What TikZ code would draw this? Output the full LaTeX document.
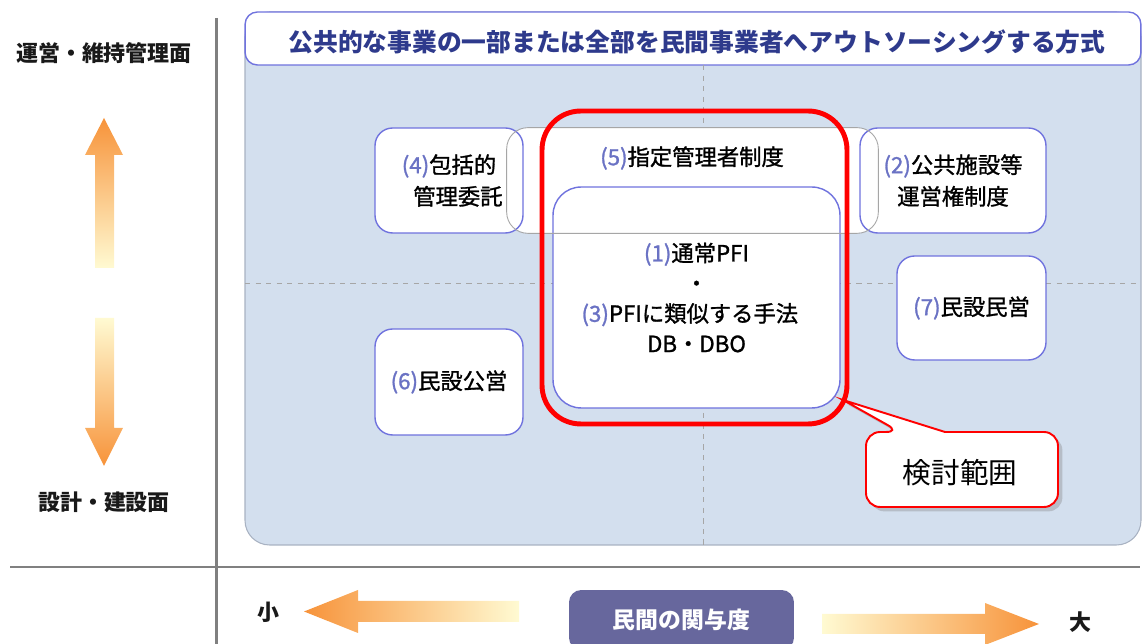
\documentclass[tikz,border=0pt]{standalone}
\usepackage{fontspec}
\setmainfont{Noto Sans CJK JP}
\newfontfamily\jpmed[FakeBold=1.2]{Noto Sans CJK JP}
\usetikzlibrary{shadows}
\definecolor{panelblue}{HTML}{D3DFEE}
\definecolor{panelline}{HTML}{A8B2C2}
\definecolor{boxline}{HTML}{7073DE}
\definecolor{numblue}{HTML}{6A72C4}
\definecolor{titleblue}{HTML}{2E3A8C}
\definecolor{axisgray}{HTML}{808080}
\definecolor{arroworange}{HTML}{F7933A}
\definecolor{arrowlight}{HTML}{FFFAD2}
\definecolor{degreepurple}{HTML}{67679D}
\newcommand{\mnum}[1]{\textcolor{numblue}{#1}}
\tikzset{
  methodbox/.style={draw=boxline,line width=0.8pt,fill=white,rounded corners=10pt,align=center,
    inner sep=0pt,font=\fontsize{12.7}{18}\selectfont\jpmed},
  sideaxis/.style={font=\fontsize{12.5}{14}\selectfont\bfseries,text=black!90},
  gridline/.style={dashed,axisgray!70,line width=0.5pt},
}
\begin{document}
\begin{tikzpicture}[x=0.02cm,y=-0.02cm]
\useasboundingbox (0,0) rectangle (1144,644);
% panel and title
\draw[fill=panelblue,draw=panelline,line width=0.6pt,rounded corners=14pt] (245,12) rectangle (1141,545);
\node[draw=boxline,line width=0.8pt,fill=white,rounded corners=7pt,minimum width=17.92cm,minimum height=1.06cm,inner sep=0pt] (titlebox) at (693,38.5) {};
\node[font=\fontsize{14.1}{16}\selectfont\bfseries,text=titleblue] (title) at (697,42) {公共的な事業の一部または全部を民間事業者へアウトソーシングする方式};
\draw[gridline] (245,283) -- (1141,283);
\draw[gridline] (703,65) -- (703,545);
% method boxes
\node[fill=white,minimum width=7.42cm,minimum height=2.1cm,rounded corners=12pt] (shitei) at (692.5,180.5) {};
\node[methodbox,minimum width=2.96cm,minimum height=2.1cm] (houkatsu) at (449,180.5) {\mnum{(4)}包括的\\\hspace*{0.8em}管理委託};
\node[methodbox,minimum width=3.72cm,minimum height=2.1cm] (unei) at (953,180.5) {\mnum{(2)}公共施設等\\運営権制度};
\node[methodbox,minimum width=2.96cm,minimum height=2.12cm] (minkou) at (449,382) {\mnum{(6)}民設公営};
\node[methodbox,minimum width=2.98cm,minimum height=2.08cm] (minmin) at (971.5,308) {\mnum{(7)}民設民営};
\node[methodbox,rounded corners=16pt,minimum width=5.74cm,minimum height=4.42cm,font=\fontsize{12.7}{17.2}\selectfont\jpmed] (pfi) at (696.5,297.5)
  {\mnum{(1)}通常PFI\\・\\\hspace*{-0.6em}\mnum{(3)}PFIに類似する手法\\DB・DBO};
\draw[axisgray!70,line width=0.5pt,rounded corners=12pt] (shitei.north west) rectangle (shitei.south east);
\node[font=\fontsize{12.7}{15}\selectfont\jpmed] (shiteitext) at (692,158) {\mnum{(5)}指定管理者制度};
% scope of study
\node[draw=red,line width=2.8pt,rounded corners=22pt,minimum width=6.1cm,minimum height=6.26cm] (scope) at (694.5,267.5) {};
\coordinate (calltip) at (843,400);
\draw[draw=red,line width=1.1pt,fill=white,drop shadow={opacity=0.35,shadow xshift=2.5pt,shadow yshift=-2.5pt}]
  (calltip) -- (945,432) [rounded corners=8pt] -- (1058,432) -- (1058,507) -- (866,507) -- (866,432) -- (900,432) [sharp corners] -- cycle;
\node[font=\fontsize{16.3}{18}\selectfont] (callout) at (960,473) {検討範囲};
% axes
\draw[axisgray,line width=1.5pt] (216.5,18) -- (216.5,644);
\draw[axisgray,line width=1.5pt] (10,567) -- (1140,567);
\node[sideaxis] (opside) at (104,53) {運営・維持管理面};
\node[sideaxis] (buildside) at (104,502) {設計・建設面};
\shade[top color=arroworange,bottom color=arrowlight] (95,268) -- (95,155) -- (85,155) -- (104,118) -- (123,155) -- (114,155) -- (114,268) -- cycle;
\shade[top color=arrowlight,bottom color=arroworange] (95,318) -- (95,428) -- (85,428) -- (104,466) -- (123,428) -- (114,428) -- (114,318) -- cycle;
\shade[left color=arroworange,right color=arrowlight] (519,601) -- (358,601) -- (358,590) -- (304,611.5) -- (358,633) -- (358,622) -- (519,622) -- cycle;
\shade[left color=arrowlight,right color=arroworange] (822,614) -- (985,614) -- (985,603) -- (1039,624) -- (985,645) -- (985,634) -- (822,634) -- cycle;
\node[sideaxis] (small) at (268,612) {小};
\node[sideaxis] (large) at (1080,622) {大};
\node[fill=degreepurple,rounded corners=7pt,minimum width=4.5cm,minimum height=1.2cm] (degreebox) at (681.5,620) {};
\node[font=\fontsize{13}{15}\selectfont\bfseries,text=white] (degree) at (681.5,620) {民間の関与度};
\end{tikzpicture}
\end{document}
